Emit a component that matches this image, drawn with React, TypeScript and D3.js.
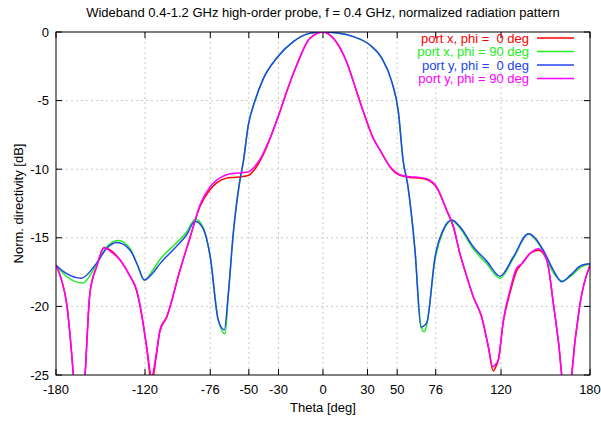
import React from "react";
import * as d3 from "d3";

const xTicks = [-180, -120, -76, -50, -30, 0, 30, 50, 76, 120, 180];
const yTicks = [0, -5, -10, -15, -20, -25];

const portXPhi0: [number, number][] = [
  [-180, -17.0], [-176.2, -18.1], [-172.8, -19.8], [-168.3, -25.0], [-164.5, -31], [-160.4, -25.0],
  [-157.1, -19.0], [-152.6, -17.1], [-147.5, -15.7], [-142, -16.0], [-136.9, -16.6], [-130.1, -17.8],
  [-125.6, -18.9], [-122.3, -20.6], [-118.9, -23.0], [-115.5, -25.6], [-112.5, -23.7], [-109.9, -21.8],
  [-105.4, -20.8], [-96.4, -17.35], [-89.7, -15.0], [-82.9, -12.7], [-76.2, -11.5], [-71.7, -11.0],
  [-65, -10.65], [-60.4, -10.6], [-55, -10.55], [-50.3, -10.45], [-46, -10.0], [-42, -9.3],
  [-38, -8.4], [-35.7, -7.75], [-29, -5.8], [-24.5, -4.35], [-17.7, -2.4], [-8.8, -0.46], [0, 0],
  [7, -0.46], [16, -2.2], [22.7, -4.35], [27.2, -5.8], [33.9, -7.75], [38.4, -8.6], [42.9, -9.45],
  [45.2, -9.85], [51.9, -10.45], [58.7, -10.6], [65, -10.65], [69.9, -10.75], [76.7, -11.35],
  [83.4, -13.0], [87.8, -14.2], [92.4, -16.2], [96, -17.5], [101.3, -19.3], [107, -20.8],
  [111.5, -23.0], [114.8, -24.7], [116.5, -24.4], [118.2, -23.9], [121.6, -21.1], [126.1, -19.0],
  [130.6, -17.4], [134, -16.9], [140, -16.1], [145.2, -15.9], [150.8, -16.6], [155.3, -19.8],
  [160.9, -25.0], [164.3, -31], [167.7, -25.0], [173.3, -19.8], [180, -17.0],
];

const portXPhi90: [number, number][] = [
  [-180, -17.0], [-173, -17.8], [-162, -18.3], [-153, -17.0], [-146, -15.7], [-138, -15.2],
  [-130, -15.8], [-125, -17.0], [-120.5, -18.1], [-115, -17.4], [-110, -16.6], [-99, -15.4],
  [-92, -14.6], [-86, -13.65], [-81, -14.2], [-76, -16.4], [-70.6, -21.0], [-66, -22.0],
  [-63.8, -19.1], [-60.5, -14.7], [-56, -10.8], [-53.7, -9.45], [-50.4, -6.8], [-45.8, -5.0],
  [-40.2, -3.4], [-31.2, -1.9], [-20, -0.7], [-9, -0.1], [0, 0], [10, -0.08], [20.4, -0.34],
  [31.7, -0.95], [39.6, -1.9], [46.3, -3.6], [50.8, -5.8], [54.1, -9.45], [56.9, -11.0],
  [62, -15.9], [66.1, -21.5], [68.3, -21.85], [70, -21.3], [75.5, -16.6], [81.1, -14.5],
  [86.8, -13.75], [92.4, -14.3], [101.3, -15.8], [110.4, -16.9], [119.3, -17.95], [128.3, -16.5],
  [138.4, -14.75], [148.5, -16.0], [155, -17.5], [161.5, -18.15], [167, -17.8], [174.4, -17.1],
  [180, -16.9],
];

const portYPhi0: [number, number][] = [
  [-180, -17.0], [-173, -17.6], [-163, -17.95], [-153, -16.9], [-146, -15.8], [-139, -15.35],
  [-130, -15.9], [-125, -17.0], [-120.5, -18.07], [-115, -17.6], [-110, -16.9], [-99, -15.65],
  [-92, -14.8], [-86.3, -13.8], [-81, -14.3], [-76, -16.4], [-70.6, -21.0], [-66.5, -21.7],
  [-63.8, -19.05], [-60.5, -14.7], [-56, -10.8], [-53.7, -9.45], [-50.4, -6.8], [-45.8, -5.0],
  [-40.2, -3.4], [-31.2, -1.9], [-20, -0.7], [-9, -0.1], [0, 0], [10, -0.08], [20.4, -0.34],
  [31.7, -0.95], [39.6, -1.9], [46.3, -3.6], [50.8, -5.8], [54.1, -9.45], [56.9, -11.0],
  [62, -15.9], [66.1, -21.5], [69.9, -21.2], [75.5, -16.4], [81.1, -14.4], [86.8, -13.7],
  [92.4, -14.2], [101.3, -15.65], [110.4, -16.7], [119.3, -17.8], [128.3, -16.4], [138.4, -14.7],
  [148.5, -15.9], [155, -17.3], [160.9, -18.2], [167, -17.7], [174.4, -17.0], [180, -16.9],
];

const portYPhi90: [number, number][] = [
  [-180, -17.0], [-176.2, -18.1], [-172.8, -19.8], [-168.3, -25.0], [-164.5, -31], [-160.4, -25.0],
  [-157.1, -19.0], [-152.6, -17.1], [-147.5, -15.75], [-142, -16.1], [-136.9, -16.6], [-130.1, -17.8],
  [-125.6, -18.8], [-122.3, -20.5], [-118.9, -22.9], [-115.5, -25.1], [-112.5, -23.5], [-109.9, -21.7],
  [-105.4, -20.75], [-96.4, -17.35], [-89.7, -15.0], [-82.9, -12.6], [-76.2, -11.3], [-71.7, -10.8],
  [-65, -10.4], [-60.4, -10.3], [-55, -10.25], [-50.3, -10.18], [-46, -9.8], [-42, -9.2],
  [-38, -8.3], [-35.7, -7.75], [-29, -5.8], [-24.5, -4.35], [-17.7, -2.4], [-8.8, -0.46], [0, 0],
  [7, -0.46], [16, -2.2], [22.7, -4.35], [27.2, -5.8], [33.9, -7.75], [38.4, -8.6], [42.9, -9.45],
  [45.2, -9.8], [51.9, -10.4], [58.7, -10.55], [65, -10.6], [69.9, -10.7], [76.7, -11.3],
  [83.4, -13.0], [87.8, -14.1], [92.4, -16.2], [96, -17.5], [101.3, -19.3], [107, -20.75],
  [111.5, -22.9], [114.4, -24.4], [116.5, -24.2], [118.2, -23.9], [121.6, -21.0], [126.1, -18.8],
  [130.6, -17.2], [134, -16.9], [140, -16.1], [145.2, -15.8], [150.8, -16.6], [155.3, -19.8],
  [160.9, -25.0], [164.3, -31], [167.7, -25.0], [173.3, -19.8], [180, -17.0],
];

const seriesNames = [
  "port x, phi =  0 deg",
  "port x, phi = 90 deg",
  "port y, phi =  0 deg",
  "port y, phi = 90 deg",
];
const seriesColors = ["#ff0000", "#22ee22", "#2244ee", "#ff00ff"];
const seriesData = [portXPhi0, portXPhi90, portYPhi0, portYPhi90];

const W = 601;
const H = 422;
const L = 56;
const R = 590;
const T = 32;
const B = 375;

export default function App() {
  const x = d3.scaleLinear().domain([-180, 180]).range([L, R]);
  const y = d3.scaleLinear().domain([-25, 0]).range([B, T]);
  const line = d3
    .line<[number, number]>()
    .x((d) => x(d[0]))
    .y((d) => y(d[1]))
    .curve(d3.curveMonotoneX);
  const font = "'Liberation Sans', Arial, Helvetica, sans-serif";
  const fs = 13;
  const tk = 6;
  return (
    <svg
      width={W}
      height={H}
      style={{ position: "absolute", left: 0, top: 0, background: "#fff" }}
      fontFamily={font}
    >
      <defs>
        <clipPath id="plotclip">
          <rect x={L} y={T} width={R - L} height={B - T} />
        </clipPath>
      </defs>
      <rect x={0} y={0} width={W} height={H} fill="#fff" />
      {xTicks.slice(1, -1).map((t) => (
        <line
          key={"gx" + t}
          x1={x(t)}
          x2={x(t)}
          y1={T}
          y2={B}
          stroke="#c8c8c8"
          strokeDasharray="2,3"
        />
      ))}
      {yTicks.slice(1, -1).map((t) => (
        <line
          key={"gy" + t}
          x1={L}
          x2={R}
          y1={y(t)}
          y2={y(t)}
          stroke="#c8c8c8"
          strokeDasharray="2,3"
        />
      ))}
      {xTicks.map((t) => (
        <g key={"tx" + t}>
          <line x1={x(t)} x2={x(t)} y1={B} y2={B - tk} stroke="#000" />
          <line x1={x(t)} x2={x(t)} y1={T} y2={T + tk} stroke="#000" />
          <text x={x(t)} y={394} textAnchor="middle" fontSize={fs} fill="#000">
            {t}
          </text>
        </g>
      ))}
      {yTicks.map((t) => (
        <g key={"ty" + t}>
          <line x1={L} x2={L + tk} y1={y(t)} y2={y(t)} stroke="#000" />
          <line x1={R} x2={R - tk} y1={y(t)} y2={y(t)} stroke="#000" />
          <text x={49} y={y(t) + 4.5} textAnchor="end" fontSize={fs} fill="#000">
            {t}
          </text>
        </g>
      ))}
      <g clipPath="url(#plotclip)">
        {seriesData.map((d, i) => (
          <path
            key={"s" + i}
            d={line(d) || ""}
            fill="none"
            stroke={seriesColors[i]}
            strokeWidth={1.5}
          />
        ))}
      </g>
      <rect x={L} y={T} width={R - L} height={B - T} fill="none" stroke="#000" strokeWidth={1} />
      {seriesNames.map((n, i) => {
        const ly = 38 + i * 13.5;
        return (
          <g key={"lg" + i}>
            <text
              x={529}
              y={ly + 4.5}
              textAnchor="end"
              fontSize={fs}
              fill={seriesColors[i]}
              style={{ whiteSpace: "pre" }}
            >
              {n}
            </text>
            <line x1={537} x2={574} y1={ly} y2={ly} stroke={seriesColors[i]} strokeWidth={1.5} />
          </g>
        );
      })}
      <text x={323} y={17} textAnchor="middle" fontSize={fs} fill="#000">
        Wideband 0.4-1.2 GHz high-order probe, f = 0.4 GHz, normalized radiation pattern
      </text>
      <text x={323} y={412} textAnchor="middle" fontSize={fs} fill="#000">
        Theta [deg]
      </text>
      <text
        transform={`translate(23,${(T + B) / 2}) rotate(-90)`}
        textAnchor="middle"
        fontSize={fs}
        fill="#000"
      >
        Norm. directivity [dB]
      </text>
    </svg>
  );
}
